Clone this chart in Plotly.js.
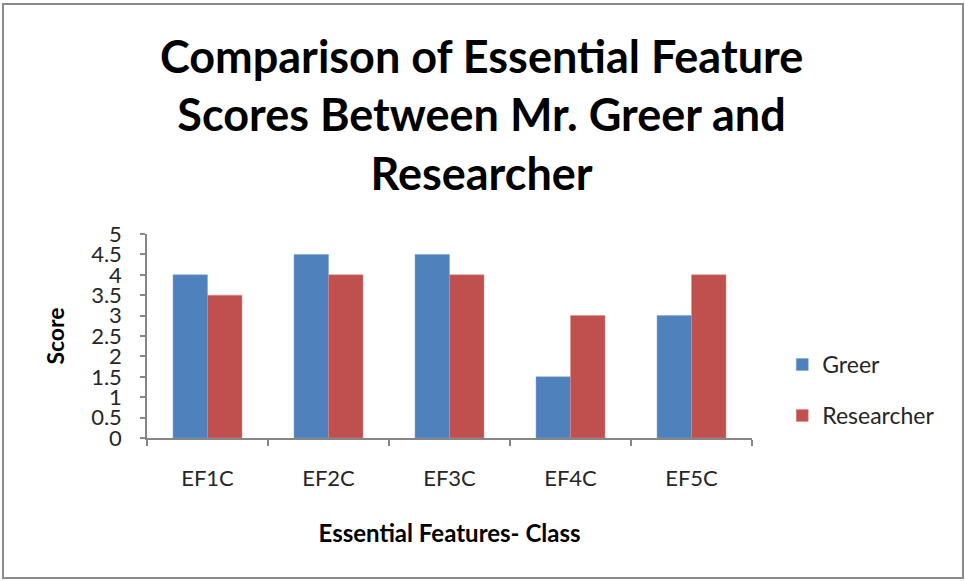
<!DOCTYPE html>
<html>
<head>
<meta charset="utf-8">
<script src="https://cdn.plot.ly/plotly-3.0.1.min.js"></script>
<style>
  body { margin: 0; background: #fff; }
  #chart { position: absolute; left: 0; top: 0; width: 965px; height: 581px; }
  #frame { position: absolute; left: 2px; top: 3px; width: 962px; height: 576px;
           box-sizing: border-box; border: 2px solid #8a8a8a; pointer-events: none; }
</style>
</head>
<body>
<div id="chart"></div>
<div id="frame"></div>
<script>
// Chart data
const categories = ['EF1C', 'EF2C', 'EF3C', 'EF4C', 'EF5C'];
const greerScores = [4, 4.5, 4.5, 1.5, 3];
const researcherScores = [3.5, 4, 4, 3, 4];
const yTicks = [0, 0.5, 1, 1.5, 2, 2.5, 3, 3.5, 4, 4.5, 5];

const baseFont = 'Lato, "Open Sans", sans-serif';
const axisGray = '#868686';

Plotly.newPlot('chart',
    [
        {
            x: categories, y: greerScores, name: 'Greer', type: 'bar',
            legendgroup: 'g',
            marker: { color: '#4F81BD', line: { color: '#7fa3d0', width: 0.5 } },
            hoverinfo: 'x+y+name'
        },
        {
            x: categories, y: researcherScores, name: 'Researcher', type: 'bar',
            legendgroup: 'r',
            marker: { color: '#C0504D', line: { color: '#d88a88', width: 0.5 } },
            hoverinfo: 'x+y+name'
        }
    ],
    {
        width: 965,
        height: 581,
        margin: { l: 147, r: 213, t: 234, b: 143 },
        paper_bgcolor: 'rgba(0,0,0,0)',
        plot_bgcolor: 'rgba(0,0,0,0)',
        font: { family: baseFont, size: 22, color: '#262626' },
        barmode: 'group',
        bargap: 0.43,
        bargroupgap: 0,
        title: {
            text: 'Comparison of Essential Feature<br>Scores Between Mr. Greer and<br>Researcher',
            font: { family: baseFont, size: 45, color: '#000', weight: 'bold' },
            xref: 'container', x: 0.499, xanchor: 'center',
            yref: 'container', y: 0.875, yanchor: 'middle'
        },
        xaxis: {
            type: 'category',
            showline: true, linecolor: axisGray, linewidth: 1.5,
            ticks: 'outside', tickson: 'boundaries', ticklen: 6, tickcolor: axisGray, tickwidth: 1.5,
            showgrid: false, zeroline: false,
            tickfont: { family: baseFont, size: 22, color: '#262626' },
            ticklabelstandoff: 20,
            title: { text: 'Essential Features- Class', font: { family: baseFont, size: 24, color: '#000', weight: 'bold' }, standoff: 35 },
            automargin: false
        },
        yaxis: {
            range: [0, 5],
            tickvals: yTicks,
            ticktext: yTicks.map(String),
            showline: true, linecolor: axisGray, linewidth: 1.5,
            ticks: 'outside', ticklen: 5, tickcolor: axisGray, tickwidth: 1.5,
            showgrid: false, zeroline: false,
            tickfont: { family: baseFont, size: 22, color: '#262626' },
            ticklabelstandoff: 14,
            title: { text: 'Score', font: { family: baseFont, size: 23, color: '#000', weight: 'bold' }, standoff: 20 },
            automargin: false
        },
        showlegend: true,
        legend: {
            x: 1.05, xanchor: 'left', y: 0.235, yanchor: 'middle',
            traceorder: 'grouped', tracegroupgap: 18,
            font: { family: baseFont, size: 23, color: '#262626' },
            itemwidth: 30
        }
    },
    { displayModeBar: false, responsive: false }
);
</script>
</body>
</html>
